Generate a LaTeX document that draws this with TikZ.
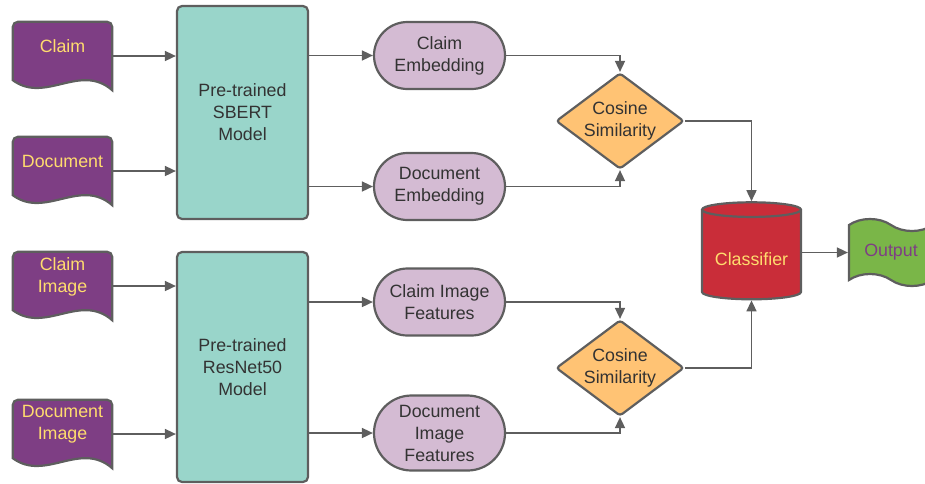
\documentclass[tikz,border=0pt]{standalone}
\usepackage{fontspec}
\setmainfont{Liberation Sans}
\usepackage{tikz}
\definecolor{DocPurple}{RGB}{126,62,132}
\definecolor{DocYellow}{RGB}{255,220,110}
\definecolor{LineGrey}{RGB}{94,94,94}
\definecolor{TextGrey}{RGB}{51,51,51}
\definecolor{ModelTeal}{RGB}{153,213,202}
\definecolor{EmbedLilac}{RGB}{212,187,211}
\definecolor{CosOrange}{RGB}{255,195,116}
\definecolor{ClfRed}{RGB}{201,45,57}
\definecolor{OutGreen}{RGB}{122,182,72}
\usetikzlibrary{shapes.geometric,shapes.misc,shapes.symbols}
\usetikzlibrary{arrows.meta,positioning,calc,backgrounds}

\begin{document}
\begin{tikzpicture}[x=1pt, y=-1pt,
    every node/.style={font=\fontsize{17.8}{22}\selectfont, align=center, text=TextGrey},
    flow/.style={-{Triangle[length=11pt,width=10pt]}, draw=LineGrey, line width=1.6pt},
    docbox/.style={minimum width=99pt, minimum height=68pt, inner sep=0pt},
    doctext/.style={yshift=9.5pt, text=DocYellow},
    docline/.style={draw=LineGrey, fill=DocPurple, line width=2.2pt},
    model/.style={rectangle, rounded corners=5pt, draw=LineGrey, fill=ModelTeal, line width=2.2pt, minimum width=131pt, inner sep=0pt},
    embed/.style={rounded rectangle, draw=LineGrey, fill=EmbedLilac, line width=2.2pt, minimum width=131pt, minimum height=67pt, inner sep=0pt},
    cosine/.style={diamond, aspect=1.33, rounded corners=3pt, draw=LineGrey, fill=CosOrange, line width=2.2pt, minimum width=128pt, minimum height=96pt, inner sep=-2pt},
    clf/.style={cylinder, shape border rotate=90, aspect=0.2, draw=LineGrey, fill=ClfRed, line width=2.2pt, minimum width=99pt, minimum height=97pt, inner sep=0pt, text height=22pt, text=DocYellow},
    outtape/.style={tape, tape bend top=out and in, tape bend bottom=out and in, tape bend height=12pt, draw=LineGrey, fill=OutGreen, line width=2.2pt, minimum width=84pt, minimum height=67pt, text=DocPurple}]
\useasboundingbox (0,0) rectangle (925,483);

%draw the pre-trained models
\node[model, minimum height=213pt] (sbert) at (242.5,112.5) {Pre-trained\\SBERT\\Model};
\node[model, minimum height=230pt] (resnet) at (242.5,367) {Pre-trained\\ResNet50\\Model};

%draw the inputs
\foreach \nm/\y/\txt in {claim/56/Claim, doc/171/Document, cimg/286/Claim\\Image, dimg/434/Document\\Image}{
    \node[docbox, label={[doctext]center:\txt}] (\nm) at (62.5,\y) {};
}
\begin{scope}[on background layer]
\foreach \nm in {claim,doc,cimg,dimg}{
    \draw[docline] ($(\nm.south west)+(0,-10)$) [rounded corners=5pt] -- (\nm.north west) -- (\nm.north east) [sharp corners] -- (\nm.south east)
        .. controls ($(\nm.south east)+(-32,-28)$) and ($(\nm.south east)+(-67,14)$) .. ($(\nm.south west)+(0,-10)$) -- cycle;
}
\end{scope}

%draw the embeddings and features
\node[embed] (cemb) at (439.5,55.5) {Claim\\Embedding};
\node[embed] (demb) at (439.5,186.5) {Document\\Embedding};
\node[embed] (cfeat) at (439.5,302) {Claim Image\\Features};
\node[embed, minimum height=75pt] (dfeat) at (439.5,433) {Document\\Image\\Features};

% similarity, classifier and output
\node[cosine] (cos1) at (620,121) {Cosine\\Similarity};
\node[cosine] (cos2) at (620,368) {Cosine\\Similarity};
\node[clf] (clf) at (751.5,255) {Classifier};
\node[outtape] (out) at (891,252.5) {Output};

%draw the connectors
\foreach \a/\b in {claim/sbert, doc/sbert, cimg/resnet, dimg/resnet}{
    \draw[flow] (\a.east) -- (\a.east -| \b.west);
}
\foreach \a/\b in {cemb/sbert, demb/sbert, cfeat/resnet, dfeat/resnet}{
    \draw[flow] (\a.west -| \b.east) -- (\a.west);
}
\draw[flow] (cemb.east) -| (cos1.north);
\draw[flow] (demb.east) -| (cos1.south);
\draw[flow] (cfeat.east) -| (cos2.north);
\draw[flow] (dfeat.east) -| (cos2.south);
\draw[flow] (cos1.east) -| (clf.north);
\draw[flow] (cos2.east) -| (clf.south);
\draw[flow] (out.west -| clf.east) -- (out.west);
\end{tikzpicture}
\end{document}
